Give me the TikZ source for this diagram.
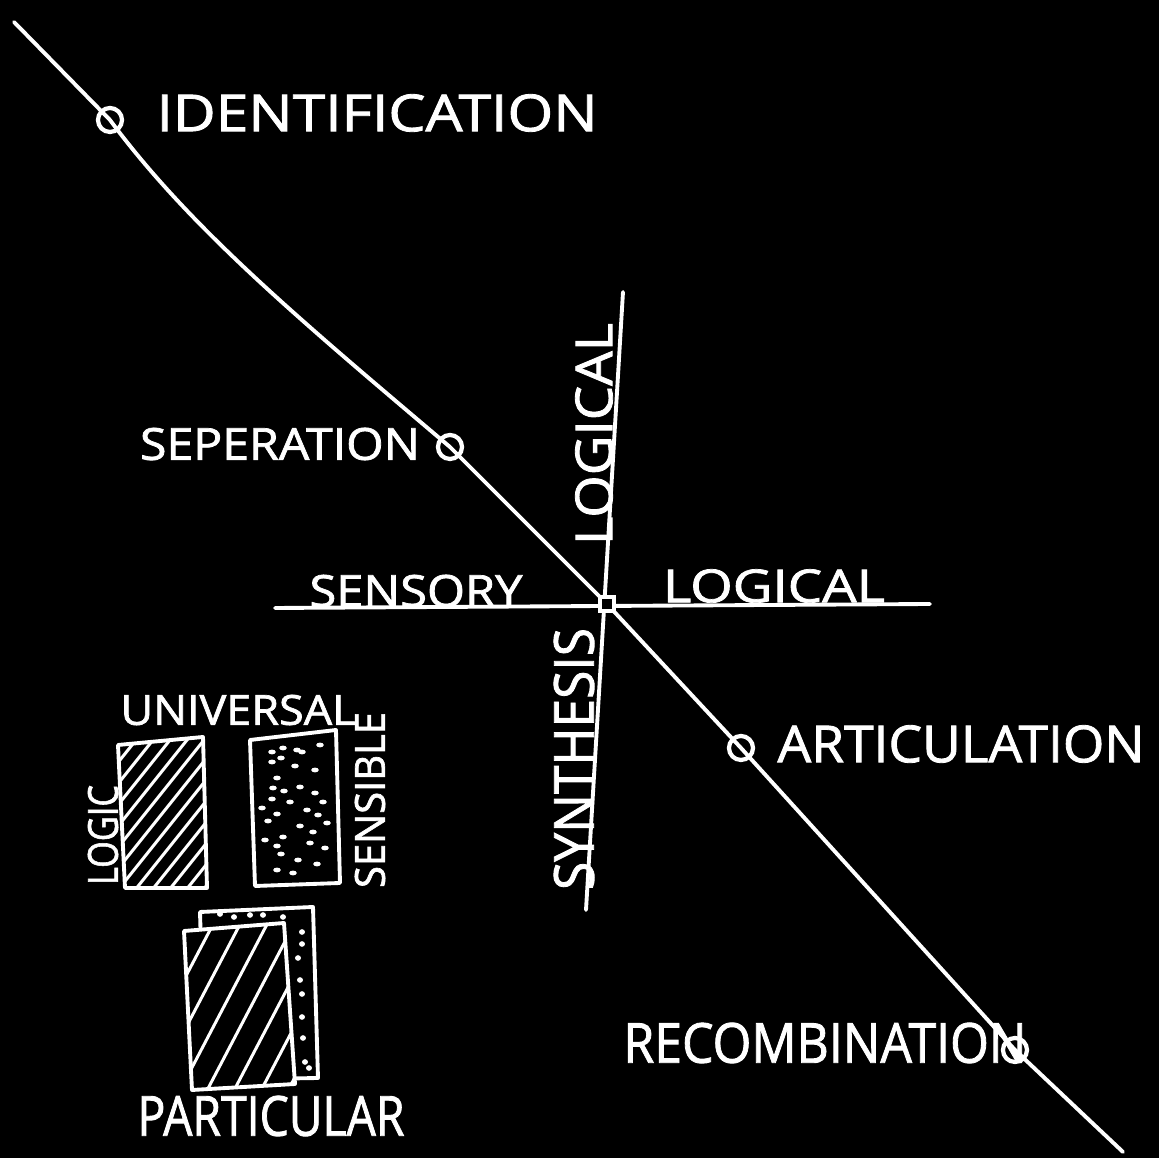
\documentclass[tikz,border=0pt]{standalone}
\usepackage{fontspec}
\setmainfont{Open Sans}
\newfontfamily\hand{Open Sans}[FakeBold=1.6]
\usepackage{graphicx}
\newcommand{\hl}[3]{\resizebox{\dimexpr 0.01cm*#1\relax}{\dimexpr 0.01cm*#2\relax}{\hand #3}}
\begin{document}
\begin{tikzpicture}[x=0.01cm,y=-0.01cm,
  lbl/.style={text=white, inner sep=0pt, anchor=center},
  wline/.style={draw=white, line width=1.1pt, line cap=round, line join=round},
  hatch/.style={draw=white, line width=0.85pt, line cap=round},
  pt/.style={circle, draw=white, line width=1.2pt, minimum size=0.24cm, inner sep=0pt},
  ctrbox/.style={rectangle, draw=white, fill=black, line width=1.4pt, minimum size=0.14cm, inner sep=0pt},
  dotmk/.style={fill=white}]
\fill[black] (0,0) rectangle (1159,1158);
\useasboundingbox (0,0) rectangle (1159,1158);

% axes
\coordinate (hl) at (275,608);
\coordinate (hr) at (930,604);
\coordinate (vt) at (623,292);
\coordinate (vb) at (586,910);
\draw[wline] (hl) -- (hr);
\draw[wline] (vt) -- (vb);

% diagonal with stations
\coordinate (d0) at (14,22);
\coordinate (d2) at (1123,1152);
\node[pt] (idp) at (110,120) {};
\node[pt] (sep) at (450,447) {};
\node[pt] (art) at (741,748) {};
\node[pt] (rec) at (1015,1050) {};
\draw[wline] (d0) -- (idp.center) .. controls (190,228) and (300,320) .. (sep.center) -- (607,604) -- (art.center) -- (rec.center) -- (d2);
\node[ctrbox] (ctr) at (607,604) {};

% labels
\node[lbl] (tid) at (377,113) {\hl{441}{37}{IDENTIFICATION}};
\node[lbl] (tsep) at (280,444) {\hl{280}{32}{SEPERATION}};
\node[lbl] (tsen) at (416,591) {\hl{213}{32}{SENSORY}};
\node[lbl] (tlog) at (774,586) {\hl{222}{33}{LOGICAL}};
\node[lbl] (tart) at (961,744) {\hl{367}{37}{ARTICULATION}};
\node[lbl] (trec) at (825,1043) {\hl{403}{40}{RECOMBINATION}};
\node[lbl, rotate=90] (tlogv) at (594,434) {\hl{222}{37}{LOGICAL}};
\node[lbl, rotate=90] (tsyn) at (574,759) {\hl{262}{40}{SYNTHESIS}};
\node[lbl] (tuni) at (238,710) {\hl{235}{30}{UNIVERSAL}};
\node[lbl, rotate=90] (tlogic) at (103,835) {\hl{100}{30}{LOGIC}};
\node[lbl, rotate=90] (tsens) at (370,800) {\hl{176}{30}{SENSIBLE}};
\node[lbl] (tpar) at (271,1116) {\hl{267}{40}{PARTICULAR}};

% LOGIC box (hatched)
\begin{scope}
\clip (118,745) -- (203,737) -- (207,888) -- (125,888) -- cycle;
\foreach \x in {-60,-43,...,240} \draw[hatch] (\x,900) -- ++(140,-175);
\end{scope}
\draw[wline] (118,745) -- (203,737) -- (207,888) -- (125,888) -- cycle;

% SENSIBLE box (dotted)
\draw[wline] (250,740) -- (336,730) -- (340,883) -- (255,886) -- cycle;
\foreach \a/\b in {272/752,283/748,297/750,320/745,272/762,281/758,302/752,295/766,315/770,277/778,273/788,300/787,284/791,315/793,272/799,290/802,323/802,307/810,277/814,268/821,327/823,283/837,313/832,277/846,310/843,325/848,281/854,298/860,317/864,277/870,293/873,262/808,265/840,300/826,318/815}
  \fill[dotmk] (\a,\b) ellipse [x radius=0.038cm, y radius=0.024cm];

% PARTICULAR: back (dotted) and front (hatched)
\fill[black] (200,912) -- (313,907) -- (318,1078) -- (205,1080) -- cycle;
\draw[wline] (200,912) -- (313,907) -- (318,1078) -- (205,1080) -- cycle;
\foreach \a/\b in {220/914,234/917,250/915,263/915,283/917,302/932,302/944,298/958,300/980,302/994,302/1017,303/1038,305/1062,309/1068}
  \fill[dotmk] (\a,\b) ellipse [x radius=0.03cm, y radius=0.028cm];
\fill[black] (184,931) -- (284,923) -- (295,1084) -- (192,1090) -- cycle;
\begin{scope}
\clip (184,931) -- (284,923) -- (295,1084) -- (192,1090) -- cycle;
\foreach \x in {40,67,...,300} \draw[hatch] (\x,1100) -- ++(110,-210);
\end{scope}
\draw[wline] (184,931) -- (284,923) -- (295,1084) -- (192,1090) -- cycle;
\end{tikzpicture}
\end{document}
